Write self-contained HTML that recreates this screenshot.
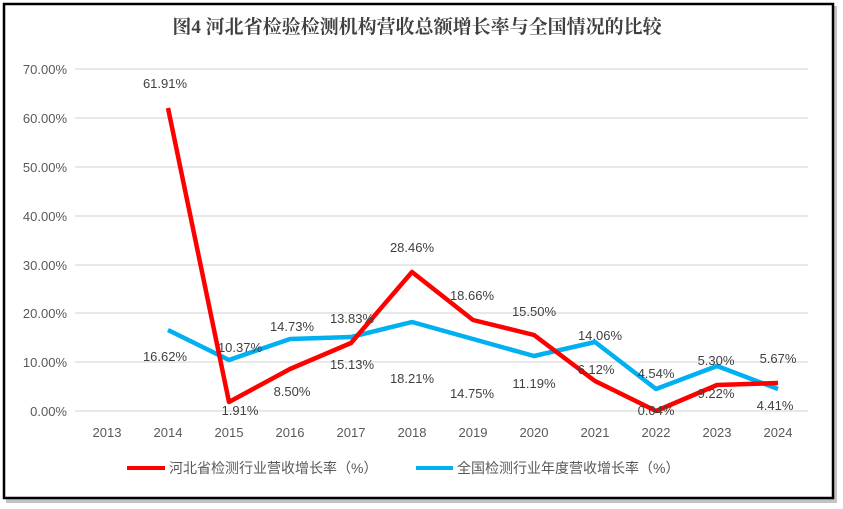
<!DOCTYPE html>
<html><head><meta charset="utf-8"><style>
html,body{margin:0;padding:0;background:#fff;}
</style></head><body>
<svg width="843" height="509" xmlns="http://www.w3.org/2000/svg" style="display:block">
<rect x="0" y="0" width="843" height="509" fill="#fff"/>
<rect x="6" y="6" width="831" height="497" fill="#888" opacity="0.5"/>
<rect x="4" y="4" width="829" height="494" fill="#fff" stroke="#000" stroke-width="2.5"/>
<text x="417" y="33" text-anchor="middle" font-family="'Liberation Serif','Noto Serif CJK SC',serif" font-weight="bold" font-size="19" fill="#404040">图4  河北省检验检测机构营收总额增长率与全国情况的比较</text>
<g stroke="#d9d9d9" stroke-width="1.3">
<line x1="75" x2="808" y1="69" y2="69"/><line x1="75" x2="808" y1="118" y2="118"/>
<line x1="75" x2="808" y1="167" y2="167"/><line x1="75" x2="808" y1="216" y2="216"/>
<line x1="75" x2="808" y1="265" y2="265"/><line x1="75" x2="808" y1="313" y2="313"/>
<line x1="75" x2="808" y1="362" y2="362"/><line x1="75" x2="808" y1="411" y2="411"/>
</g>
<g font-family="'Liberation Sans','Noto Sans CJK SC',sans-serif" font-size="13" fill="#595959" text-anchor="end">
<text x="67" y="74">70.00%</text><text x="67" y="123">60.00%</text><text x="67" y="172">50.00%</text>
<text x="67" y="221">40.00%</text><text x="67" y="270">30.00%</text><text x="67" y="318">20.00%</text>
<text x="67" y="367">10.00%</text><text x="67" y="416">0.00%</text>
</g>
<g font-family="'Liberation Sans',sans-serif" font-size="13" fill="#595959" text-anchor="middle">
<text x="107" y="437">2013</text><text x="168" y="437">2014</text><text x="229" y="437">2015</text>
<text x="290" y="437">2016</text><text x="351" y="437">2017</text><text x="412" y="437">2018</text>
<text x="473" y="437">2019</text><text x="534" y="437">2020</text><text x="595" y="437">2021</text>
<text x="656" y="437">2022</text><text x="717" y="437">2023</text><text x="778" y="437">2024</text>
</g>
<polyline fill="none" stroke="#00b0f0" stroke-width="4.5" stroke-linejoin="round" points="168,330 229,360 290,339 351,337 412,322 473,339 534,356 595,342 656,389 717,366 778,389"/>
<polyline fill="none" stroke="#ff0000" stroke-width="4.5" stroke-linejoin="round" points="168,108 229,402 290,369 351,343 412,272 473,320 534,335 595,381 656,411 717,385 778,383"/>
<g font-family="'Liberation Sans',sans-serif" font-size="13" fill="#404040" text-anchor="middle">
<text x="165" y="88">61.91%</text><text x="240" y="415">1.91%</text><text x="240" y="352">10.37%</text>
<text x="165" y="361">16.62%</text>
<text x="292" y="331">14.73%</text><text x="292" y="396">8.50%</text>
<text x="352" y="323">13.83%</text><text x="352" y="369">15.13%</text>
<text x="412" y="252">28.46%</text><text x="412" y="383">18.21%</text>
<text x="472" y="300">18.66%</text><text x="472" y="398">14.75%</text>
<text x="534" y="316">15.50%</text><text x="534" y="388">11.19%</text>
<text x="596" y="374">6.12%</text><text x="600" y="340">14.06%</text>
<text x="656" y="378">4.54%</text><text x="656" y="415">0.04%</text>
<text x="716" y="365">5.30%</text><text x="716" y="398">9.22%</text>
<text x="778" y="363">5.67%</text><text x="775" y="410">4.41%</text>
</g>
<line x1="127" x2="165" y1="468" y2="468" stroke="#ff0000" stroke-width="4"/>
<line x1="416" x2="453" y1="468" y2="468" stroke="#00b0f0" stroke-width="4"/>
<g font-family="'Liberation Sans','Noto Sans CJK SC',sans-serif" font-size="14" fill="#595959">
<text x="169" y="473">河北省检测行业营收增长率（%）</text>
<text x="457" y="473">全国检测行业年度营收增长率（%）</text>
</g>
</svg>
</body></html>
